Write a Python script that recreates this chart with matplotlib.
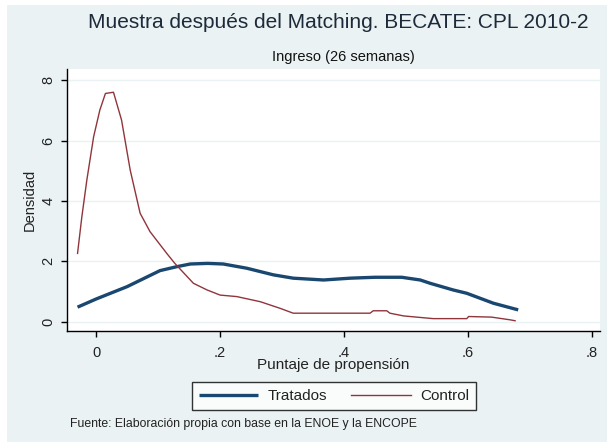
import matplotlib
matplotlib.use("Agg")
import matplotlib.pyplot as plt
from matplotlib.patches import Rectangle

plt.rcParams['font.family'] = ['Liberation Sans', 'DejaVu Sans']

# Densidad del puntaje de propension (kdensity), tratados y control
tratados_x = [-0.030, 0.000, 0.050, 0.103, 0.130, 0.152, 0.180, 0.205, 0.243, 0.286,
              0.318, 0.367, 0.410, 0.450, 0.493, 0.523, 0.539, 0.576, 0.598, 0.641, 0.681]
tratados_y = [0.48, 0.75, 1.16, 1.69, 1.82, 1.91, 1.93, 1.91, 1.77, 1.55,
              1.44, 1.38, 1.44, 1.47, 1.47, 1.38, 1.27, 1.05, 0.94, 0.61, 0.39]

control_x = [-0.030, -0.023, -0.015, -0.004, 0.006, 0.015, 0.028, 0.041, 0.055, 0.071,
             0.087, 0.114, 0.127, 0.157, 0.179, 0.200, 0.227, 0.265, 0.297, 0.318,
             0.361, 0.426, 0.442, 0.447, 0.469, 0.474, 0.496, 0.517, 0.544, 0.598,
             0.601, 0.638, 0.668, 0.676]
control_y = [2.26, 3.48, 4.69, 6.13, 7.01, 7.56, 7.60, 6.68, 5.02, 3.59,
             2.98, 2.26, 1.93, 1.27, 1.05, 0.88, 0.83, 0.66, 0.44, 0.28,
             0.28, 0.28, 0.28, 0.36, 0.36, 0.28, 0.19, 0.15, 0.10, 0.10,
             0.17, 0.15, 0.06, 0.03]

x_ticks = [0, 0.2, 0.4, 0.6, 0.8]
x_tick_labels = ['0', '.2', '.4', '.6', '.8']
y_ticks = [0, 2, 4, 6, 8]

W, H = 607, 442
bg = '#eaf2f3'
navy = '#1a476f'
maroon = '#90353b'

fig = plt.figure(figsize=(W / 100, H / 100), dpi=100, facecolor='white')
# fondo de la region del grafico (estilo s2color)
fig.patches.append(Rectangle((7 / W, 0), 1 - 7 / W, 1 - 5 / H, transform=fig.transFigure,
                             facecolor=bg, edgecolor='none', zorder=-10))

left, right, top, bottom = 67, 600, 69, 331
ax = fig.add_axes([left / W, 1 - bottom / H, (right - left) / W, (bottom - top) / H])
ax.set_facecolor('white')

ax.plot(tratados_x, tratados_y, color=navy, lw=2.4, solid_capstyle='butt', label='Tratados', zorder=3)
ax.plot(control_x, control_y, color=maroon, lw=1.0, label='Control', zorder=3)

ax.set_xlim(-0.047, 0.813)
ax.set_ylim(-0.31, 8.37)
ax.set_xticks(x_ticks)
ax.set_xticklabels(x_tick_labels)
ax.set_yticks(y_ticks)
ax.set_yticklabels([str(v) for v in y_ticks], rotation=90, va='center')
ax.grid(axis='y', color=bg, lw=1.0)
ax.set_axisbelow(True)
for s in ['top', 'right']:
    ax.spines[s].set_visible(False)
for s in ['left', 'bottom']:
    ax.spines[s].set_color('black')
    ax.spines[s].set_linewidth(1.0)
ax.tick_params(axis='both', direction='out', length=4.5, width=1.0, color='black',
               labelsize=10.5, labelcolor='#222222')
ax.tick_params(axis='x', pad=6)
ax.tick_params(axis='y', pad=4)

ax.set_xlabel('Puntaje de propensión', fontsize=11, color='#222222', labelpad=-1.5)
ax.set_ylabel('Densidad', fontsize=10.5, color='#222222', labelpad=3)

fig.text(338 / W, 1 - 22 / H, 'Muestra después del Matching. BECATE: CPL 2010-2',
         ha='center', va='center', fontsize=15, color='#1c2a3a')
fig.text(343 / W, 1 - 57 / H, 'Ingreso (26 semanas)', ha='center', va='center',
         fontsize=10.5, color='#111111')

leg = fig.legend(loc='center', bbox_to_anchor=(334 / W, 1 - 396 / H), ncol=2,
                 fontsize=11, frameon=True, fancybox=False, handlelength=3.9,
                 columnspacing=1.6, borderpad=0.45, handletextpad=0.6)
leg.get_frame().set_edgecolor('black')
leg.get_frame().set_linewidth(1.0)
for t in leg.get_texts():
    t.set_color('#222222')

fig.text(70 / W, 1 - 424 / H, 'Fuente: Elaboración propia con base en la ENOE y la ENCOPE',
         ha='left', va='center', fontsize=8.8, color='#222222')

fig.savefig('out.png', dpi=100, facecolor=fig.get_facecolor())
